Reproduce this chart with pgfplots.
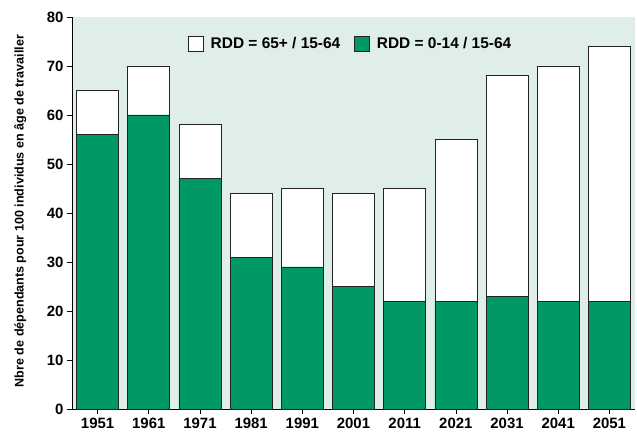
\documentclass[border=0pt]{standalone}
\usepackage{pgfplots}
\pgfplotsset{compat=1.18}
\usepackage{fontspec}
\setmainfont{Liberation Sans}
\definecolor{bggreen}{RGB}{223,238,231}
\definecolor{bargreen}{RGB}{0,153,102}
\definecolor{edge}{RGB}{35,35,35}
\begin{document}
\begin{tikzpicture}[x=1bp,y=1bp]
\begin{axis}[
  scale only axis,
  width=563bp, height=392bp,
  ybar stacked,
  bar width=0.82,
  xmin=-0.5, xmax=10.5,
  ymin=0, ymax=80,
  ytick={0,10,...,80},
  xtick={0,...,10},
  xticklabels={1951,1961,1971,1981,1991,2001,2011,2021,2031,2041,2051},
  axis lines=left,
  axis line style={-, black, line width=0.8pt},
  tick style={black, line width=0.6pt},
  tick align=outside,
  major tick length=5bp,
  axis background/.style={fill=bggreen},
  ticklabel style={font=\bfseries\fontsize{15}{15}\selectfont},
  xticklabel style={yshift=-1bp},
  /pgf/number format/assume math mode=true,
  ylabel={\bfseries Nbre de dépendants pour 100 individus en âge de travailler},
  ylabel style={font=\bfseries\fontsize{12.6}{12.6}\selectfont, at={(axis description cs:-0.092,0.505)}, anchor=center},
  legend style={at={(0.495,0.931)}, anchor=center, draw=none, fill=none,
    legend columns=2, font=\bfseries\fontsize{15.5}{15.5}\selectfont,
    /tikz/every odd column/.append style={column sep=5bp},
    /tikz/every even column/.append style={column sep=12bp}},
  legend image code/.code={\draw[#1, line width=0.6pt] (0bp,-7.5bp) rectangle (15bp,7.5bp);},
]
\addlegendimage{fill=white, draw=edge}
\addlegendentry{RDD = 65+ / 15-64}
\addlegendimage{fill=bargreen, draw=edge}
\addlegendentry{RDD = 0-14 / 15-64}
\addplot[fill=bargreen, draw=edge, line width=0.7pt, forget plot] coordinates {
(0,56) (1,60) (2,47) (3,31) (4,29) (5,25) (6,22) (7,22) (8,23) (9,22) (10,22)};
\addplot[fill=white, draw=edge, line width=0.7pt, forget plot] coordinates {
(0,9) (1,10) (2,11) (3,13) (4,16) (5,19) (6,23) (7,33) (8,45) (9,48) (10,52)};
\end{axis}
\pgfresetboundingbox
\path ([shift={(-72bp,-25bp)}]current axis.south west) rectangle ([shift={(2bp,17bp)}]current axis.north east);
\end{tikzpicture}
\end{document}
